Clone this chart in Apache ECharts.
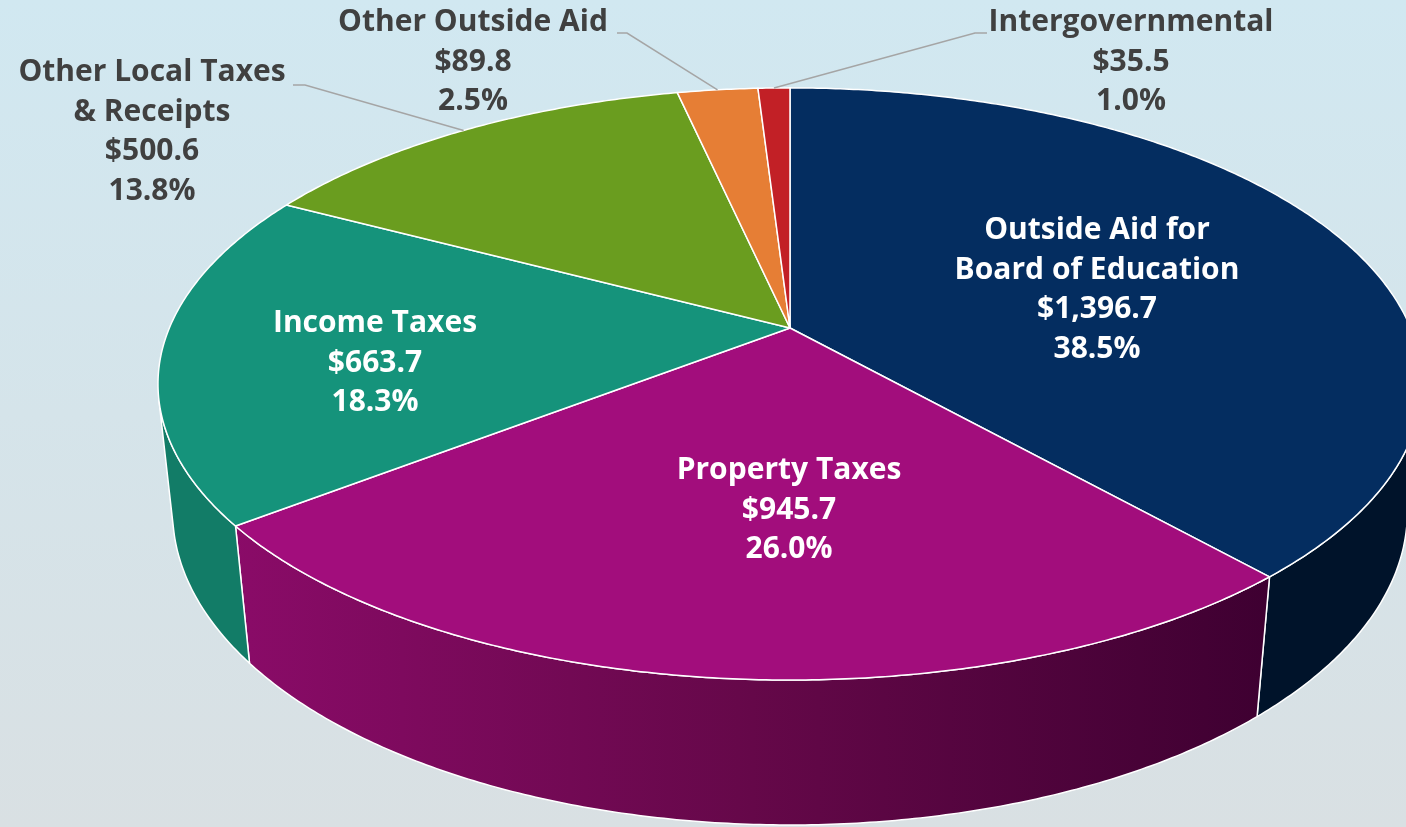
<!DOCTYPE html>
<html><head><meta charset="utf-8">
<script src="https://cdn.jsdelivr.net/npm/echarts@6/dist/echarts.min.js"></script>
<style>html,body{margin:0;padding:0;overflow:hidden;}#c{width:1406px;height:827px;}</style>
</head><body><div id="c"></div>
<script>
// ---- data ----
const categories = ['Outside Aid for\nBoard of Education', 'Property Taxes', 'Income Taxes', 'Other Local Taxes\n& Receipts', 'Other Outside Aid', 'Intergovernmental'];
const values = [1396.7, 945.7, 663.7, 500.6, 89.8, 35.5];

// ---- styles / layout ----
const topColors = ['#042d60', '#a20d7c', '#15937b', '#6a9d1f', '#e67e35', '#c22026'];
const wallColors = [
  '#00132a',
  ['#8a0b68', '#650849', '#3e0031'],
  '#127c67',
  '#557f18', '#c0672a', '#9a1a1e'
];
const labelPlacement = [
  {x: 1097, y: 290, inside: true},
  {x: 789, y: 510, inside: true},
  {x: 375, y: 363, inside: true},
  {x: 152, y: 132, leader: [293, 305, 85]},
  {x: 473, y: 62, leader: [617, 627, 33]},
  {x: 1131, y: 62, leader: [987, 975, 33]}
];

// perspective geometry of the 3D pie
const SIN = 0.46, COS = 0.888, DIST = 4.70, FOC = 2917, THICK = 0.234, CX = 790, CY = 328;
function proj(t, r, z) {
  const X = r * Math.sin(t), Y = -r * Math.cos(t);
  const zc = DIST - COS * Y - SIN * z;
  return [CX + FOC * X / zc, CY + FOC * (SIN * Y - COS * z) / zc];
}
const total = values.reduce((a, b) => a + b, 0);
function fmtMoney(v) {
  return '$' + v.toLocaleString('en-US', {minimumFractionDigits: 1, maximumFractionDigits: 1});
}

const chart = echarts.init(document.getElementById('c'));
chart.setOption({
  animation: false,
  backgroundColor: {
    type: 'linear', x: 0, y: 0, x2: 0, y2: 1,
    colorStops: [{offset: 0, color: '#d1e8f1'}, {offset: 1, color: '#d9e0e3'}]
  },
  series: [{
    type: 'custom',
    coordinateSystem: 'none',
    data: values.map((v, i) => ({name: categories[i], value: [v, i]})),
    renderItem: function (params, api) {
      const i = params.dataIndex;
      const v = api.value(0);
      let cum = 0;
      for (let k = 0; k < i; k++) cum += values[k];
      const a0 = 2 * Math.PI * cum / total;
      const a1 = 2 * Math.PI * (cum + v) / total;
      const children = [];
      const step = Math.PI / 360;

      // side wall (visible front part only)
      const tmin = Math.acos(-1 / (DIST * COS));
      const tmax = 2 * Math.PI - tmin;
      const lo = Math.max(a0, tmin), hi = Math.min(a1, tmax);
      if (hi > lo) {
        const n = Math.max(2, Math.ceil((hi - lo) / step));
        const pts = [];
        for (let k = 0; k <= n; k++) pts.push(proj(lo + (hi - lo) * k / n, 1, 0));
        for (let k = n; k >= 0; k--) pts.push(proj(lo + (hi - lo) * k / n, 1, -THICK));
        const wc = wallColors[i];
        const fill = Array.isArray(wc)
          ? new echarts.graphic.LinearGradient(0, 0, 1, 0, wc.map((c, j) => ({offset: j / (wc.length - 1), color: c})))
          : wc;
        children.push({
          type: 'polygon', z2: 1, shape: {points: pts},
          style: {fill: fill, stroke: '#ffffff', lineWidth: 1.5, lineJoin: 'round'}
        });
      }

      // top face
      const n = Math.max(2, Math.ceil((a1 - a0) / step));
      const top = [proj(0, 0, 0)];
      for (let k = 0; k <= n; k++) top.push(proj(a0 + (a1 - a0) * k / n, 1, 0));
      children.push({
        type: 'polygon', z2: 2, shape: {points: top},
        style: {fill: topColors[i], stroke: '#ffffff', lineWidth: 1.5, lineJoin: 'round'}
      });

      // label
      const lp = labelPlacement[i];
      const pct = (v / total * 100).toFixed(1) + '%';
      const text = categories[i] + '\n' + fmtMoney(v) + '\n' + pct;
      children.push({
        type: 'text', z2: 10, x: lp.x, y: lp.y,
        style: {
          text: text, fill: lp.inside ? '#ffffff' : '#404040',
          fontFamily: '"Open Sans", "DejaVu Sans", sans-serif', fontWeight: 'bold', fontSize: 30,
          align: 'center', verticalAlign: 'middle', lineHeight: 39.5
        }
      });
      if (lp.leader) {
        const mid = (a0 + a1) / 2;
        const e = proj(mid, 1, 0);
        children.push({
          type: 'polyline', z2: 9,
          shape: {points: [[lp.leader[0], lp.leader[2]], [lp.leader[1], lp.leader[2]], e]},
          style: {stroke: '#a5a5a5', lineWidth: 1.5, fill: null}
        });
      }
      return {type: 'group', children: children};
    }
  }]
});
</script>
</body></html>
